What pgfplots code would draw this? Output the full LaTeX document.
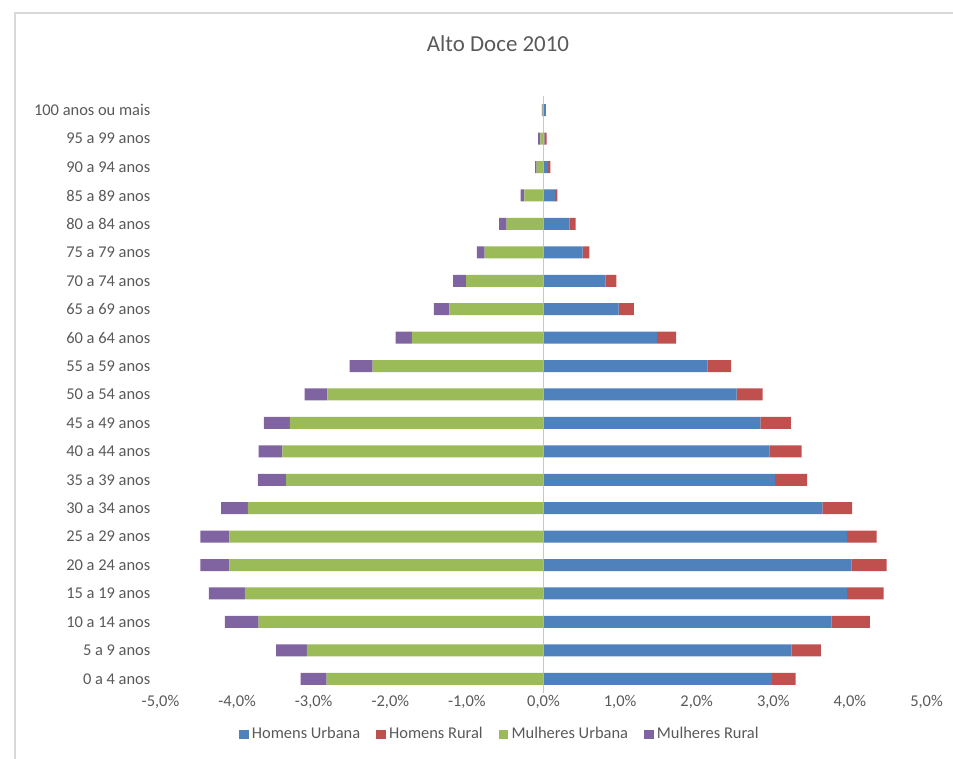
\documentclass[border=0pt]{standalone}
\usepackage{fontspec}
\setmainfont{Carlito}
\usepackage{pgfplots}
\usepackage{pgfplotstable}
\pgfplotsset{compat=1.18}
\definecolor{hu}{HTML}{4F81BD}
\definecolor{hr}{HTML}{C0504D}
\definecolor{mu}{HTML}{9BBB59}
\definecolor{mr}{HTML}{8064A2}
\definecolor{txt}{HTML}{595959}
\definecolor{brd}{HTML}{D9D9D9}

\pgfplotstableread{
idx hu hr
0 2.98 0.31
1 3.24 0.38
2 3.76 0.50
3 3.96 0.48
4 4.02 0.46
5 3.96 0.39
6 3.64 0.39
7 3.02 0.42
8 2.95 0.42
9 2.83 0.40
10 2.52 0.34
11 2.14 0.31
12 1.48 0.25
13 0.98 0.20
14 0.81 0.14
15 0.51 0.09
16 0.34 0.08
17 0.15 0.03
18 0.06 0.03
19 0.01 0.03
20 0.03 0.00
}\homens

\pgfplotstableread{
idx mu mr
0 -2.83 -0.34
1 -3.09 -0.40
2 -3.72 -0.44
3 -3.90 -0.47
4 -4.10 -0.38
5 -4.10 -0.38
6 -3.86 -0.35
7 -3.36 -0.37
8 -3.41 -0.31
9 -3.31 -0.34
10 -2.82 -0.30
11 -2.23 -0.30
12 -1.72 -0.21
13 -1.23 -0.20
14 -1.01 -0.17
15 -0.77 -0.10
16 -0.48 -0.10
17 -0.25 -0.05
18 -0.09 -0.02
19 -0.04 -0.03
20 -0.01 -0.01
}\mulheres

\pgfplotsset{
  pyr/.style={
    scale only axis, width=766bp, height=597bp,
    at={(160.5bp,66bp)}, anchor=south west,
    xmin=-5, xmax=5, ymin=-0.5, ymax=20.5,
    xbar stacked, bar width=12bp,
    axis line style={draw=none}, tick style={draw=none},
    major tick length=0pt,
  },
}

\begin{document}
\begin{tikzpicture}
\useasboundingbox (0,0) rectangle (953bp,759bp);
\draw[brd, line width=1.3bp] (15bp,0bp) -- (15bp,746bp) -- (953bp,746bp);
\node[text=txt, font=\fontsize{23}{27}\selectfont] at (498bp,715bp) {Alto Doce 2010};

\begin{axis}[pyr,
  ytick={0,...,20},
  yticklabels={0 a 4 anos, 5 a 9 anos, 10 a 14 anos, 15 a 19 anos, 20 a 24 anos, 25 a 29 anos, 30 a 34 anos, 35 a 39 anos, 40 a 44 anos, 45 a 49 anos, 50 a 54 anos, 55 a 59 anos, 60 a 64 anos, 65 a 69 anos, 70 a 74 anos, 75 a 79 anos, 80 a 84 anos, 85 a 89 anos, 90 a 94 anos, 95 a 99 anos, 100 anos ou mais},
  xtick={-5,...,5},
  xticklabels={{-5,0\%},{-4,0\%},{-3,0\%},{-2,0\%},{-1,0\%},{0,0\%},{1,0\%},{2,0\%},{3,0\%},{4,0\%},{5,0\%}},
  yticklabel style={anchor=east, inner sep=0pt, xshift=-10bp, text=txt, font=\fontsize{16.5}{19}\selectfont},
  xticklabel style={anchor=north, inner sep=0pt, yshift=-2bp, text=txt, font=\fontsize{16.5}{19}\selectfont},
]
\addplot[fill=hu, draw=none] table[x=hu, y=idx] {\homens};
\addplot[fill=hr, draw=none] table[x=hr, y=idx] {\homens};
\end{axis}

\begin{axis}[pyr, hide axis,
  legend columns=4,
  legend style={draw=none, fill=none, at={(0.443,-0.0687)}, anchor=center,
    text=txt, font=\fontsize{16.5}{19}\selectfont,
    /tikz/every odd column/.append style={column sep=2bp},
    /tikz/every even column/.append style={column sep=14bp}},
  legend cell align=left,
]
\addlegendimage{legend image code/.code={\fill[hu] (0bp,-4.2bp) rectangle (8.5bp,4.2bp);}}
\addlegendentry{Homens Urbana}
\addlegendimage{legend image code/.code={\fill[hr] (0bp,-4.2bp) rectangle (8.5bp,4.2bp);}}
\addlegendentry{Homens Rural}
\addlegendimage{legend image code/.code={\fill[mu] (0bp,-4.2bp) rectangle (8.5bp,4.2bp);}}
\addlegendentry{Mulheres Urbana}
\addlegendimage{legend image code/.code={\fill[mr] (0bp,-4.2bp) rectangle (8.5bp,4.2bp);}}
\addlegendentry{Mulheres Rural}
\addplot[fill=mu, draw=none, forget plot] table[x=mu, y=idx] {\mulheres};
\addplot[fill=mr, draw=none, forget plot] table[x=mr, y=idx] {\mulheres};
\draw[brd!80!gray, line width=1.5bp] (axis cs:0,-0.5) -- (axis cs:0,20.5);
\end{axis}
\end{tikzpicture}
\end{document}
